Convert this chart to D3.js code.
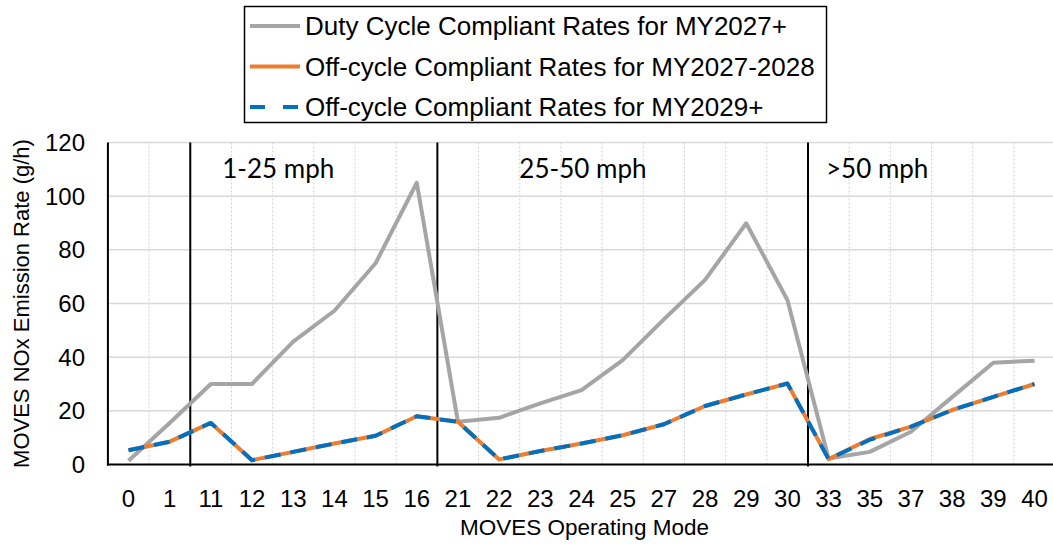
<!DOCTYPE html>
<html>
<head>
<meta charset="utf-8">
<script src="https://cdn.jsdelivr.net/npm/d3@7"></script>
<style>
  body { margin: 0; background: #fff; }
  svg { display: block; font-family: "Liberation Sans", Arial, sans-serif; }
</style>
</head>
<body>
<script>
document.addEventListener('DOMContentLoaded', function() {
    const width = 1053;
    const height = 544;

    // MOVES operating modes
    const modes = ["0", "1", "11", "12", "13", "14", "15", "16", "21", "22", "23", "24",
                   "25", "27", "28", "29", "30", "33", "35", "37", "38", "39", "40"];

    const dutyCycle = [1.4, 15.5, 30, 30, 45.8, 57.3, 75, 105, 15.9, 17.4, 22.8, 27.7,
                       38.9, 54.1, 68.8, 89.9, 61.3, 2.2, 4.7, 12.2, 25.1, 37.9, 38.7];
    const offCycle2027 = [5.3, 8.5, 15.5, 1.6, 4.7, 7.8, 10.7, 18.0, 15.9, 1.9, 5.0, 7.8,
                          10.9, 15.0, 21.8, 26.1, 30.2, 2.0, 9.5, 14.1, 20.3, 25.2, 30.0];
    const offCycle2029 = [5.3, 8.5, 15.5, 1.6, 4.7, 7.8, 10.7, 18.0, 15.9, 1.9, 5.0, 7.8,
                          10.9, 15.0, 21.8, 26.1, 30.2, 2.0, 9.2, 14.1, 20.3, 25.2, 30.0];

    const yTicks = [0, 20, 40, 60, 80, 100, 120];

    // speed bins: the black divider sits before the first mode of each bin
    const binStarts = ["11", "21", "33"];
    const binLabels = ["1-25 mph", "25-50 mph", ">50 mph"];
    const binLabelOffset = [32, 82, 18];

    const series = [
        {name: "Duty Cycle Compliant Rates for MY2027+", values: dutyCycle, color: "#a5a5a5", dash: null},
        {name: "Off-cycle Compliant Rates for MY2027-2028", values: offCycle2027, color: "#ed7d31", dash: null},
        {name: "Off-cycle Compliant Rates for MY2029+", values: offCycle2029, color: "#0070c0", dash: "16,10"}
    ];

    const svg = d3.select("body").append("svg")
        .attr("width", width)
        .attr("height", height);

    const x = d3.scalePoint().domain(modes).range([128.5, 1034.5]);
    const step = x.step();
    const y = d3.scaleLinear().domain([0, 120]).range([464.5, 142.5]);
    const left = x(modes[0]) - step / 2;
    const right = x(modes[modes.length - 1]) + step / 2;

    // vertical dotted grid between categories
    svg.append("g")
        .selectAll("line")
        .data(modes.slice(1))
        .join("line")
        .attr("x1", d => x(d) - step / 2)
        .attr("x2", d => x(d) - step / 2)
        .attr("y1", y(120))
        .attr("y2", y(0))
        .attr("stroke", "#d0d0d0")
        .attr("stroke-width", 1)
        .attr("stroke-dasharray", "2,2");

    // horizontal grid
    svg.append("g")
        .selectAll("line")
        .data(yTicks.slice(1))
        .join("line")
        .attr("x1", left)
        .attr("x2", right)
        .attr("y1", d => y(d))
        .attr("y2", d => y(d))
        .attr("stroke", "#d9d9d9")
        .attr("stroke-width", 1.5);

    // y axis labels
    svg.append("g")
        .selectAll("text")
        .data(yTicks)
        .join("text")
        .attr("x", 85)
        .attr("y", d => y(d))
        .attr("dy", "0.36em")
        .attr("text-anchor", "end")
        .attr("font-size", 24)
        .attr("fill", "#000")
        .text(d => d);

    // x axis labels
    svg.append("g")
        .selectAll("text")
        .data(modes)
        .join("text")
        .attr("x", d => x(d))
        .attr("y", 507)
        .attr("text-anchor", "middle")
        .attr("font-size", 24)
        .attr("fill", "#000")
        .text(d => d);

    // axis titles
    svg.append("text")
        .attr("transform", "translate(29," + ((y(0) + y(120)) / 2) + ") rotate(-90)")
        .attr("text-anchor", "middle")
        .attr("font-size", 22)
        .text("MOVES NOx Emission Rate (g/h)");

    svg.append("text")
        .attr("x", (left + right) / 2 + 3)
        .attr("y", 535)
        .attr("text-anchor", "middle")
        .attr("font-size", 22.5)
        .text("MOVES Operating Mode");

    // speed bin dividers
    svg.append("g")
        .selectAll("line")
        .data(binStarts)
        .join("line")
        .attr("x1", d => x(d) - step / 2)
        .attr("x2", d => x(d) - step / 2)
        .attr("y1", y(120))
        .attr("y2", y(0) + 2)
        .attr("stroke", "#000")
        .attr("stroke-width", 2);

    svg.append("g")
        .selectAll("text")
        .data(binStarts)
        .join("text")
        .attr("x", (d, i) => x(d) - step / 2 + binLabelOffset[i])
        .attr("y", 178)
        .attr("font-family", "Lato, 'Open Sans', sans-serif")
        .attr("font-size", 26)
        .attr("fill", "#000")
        .text((d, i) => binLabels[i]);

    // series lines
    const line = d3.line()
        .x((d, i) => x(modes[i]))
        .y(d => y(d));

    svg.append("g")
        .selectAll("path")
        .data(series)
        .join("path")
        .attr("d", d => line(d.values))
        .attr("fill", "none")
        .attr("stroke", d => d.color)
        .attr("stroke-width", 4)
        .attr("stroke-linejoin", "round")
        .attr("stroke-dasharray", d => d.dash);

    // axis lines
    svg.append("line")
        .attr("x1", left).attr("x2", left)
        .attr("y1", y(120)).attr("y2", y(0) + 1)
        .attr("stroke", "#000").attr("stroke-width", 2);
    svg.append("line")
        .attr("x1", left - 1).attr("x2", right)
        .attr("y1", y(0)).attr("y2", y(0))
        .attr("stroke", "#000").attr("stroke-width", 2);

    // legend
    const legend = svg.append("g");
    legend.append("rect")
        .attr("x", 244.5).attr("y", 6.5)
        .attr("width", 582).attr("height", 116)
        .attr("fill", "#fff")
        .attr("stroke", "#000")
        .attr("stroke-width", 1.5);

    const item = legend.selectAll("g")
        .data(series)
        .join("g")
        .attr("transform", (d, i) => "translate(250," + (26 + i * 40.5) + ")");

    item.append("line")
        .attr("x1", 0).attr("x2", 50)
        .attr("stroke", d => d.color)
        .attr("stroke-width", 4)
        .attr("stroke-dasharray", d => d.dash ? "15,18" : null);

    item.append("text")
        .attr("x", 55)
        .attr("dy", "0.36em")
        .attr("font-size", 26)
        .attr("fill", "#000")
        .text(d => d.name);
});
</script>
</body>
</html>
